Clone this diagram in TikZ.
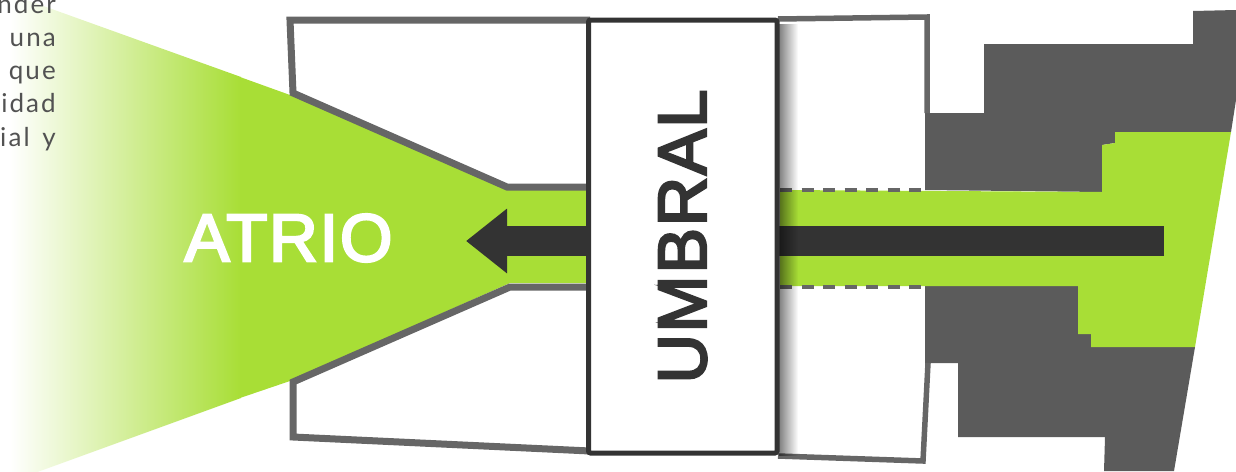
\documentclass[tikz,border=0pt]{standalone}
\usepackage{fontspec}
\setmainfont{Liberation Sans}
\newfontfamily\fuentetexto[LetterSpace=8]{Lato}
\newfontfamily\fuentetitulo[FakeBold=3.5,LetterSpace=2.5]{Liberation Sans}
\usetikzlibrary{arrows.meta,fadings}
\definecolor{verde}{HTML}{A8DE36}
\definecolor{gris}{HTML}{5B5B5B}
\definecolor{muro}{HTML}{666666}
\definecolor{oscuro}{HTML}{333333}
\begin{document}
\begin{tikzpicture}[x=1pt, y=-1pt,
  muro/.style={draw=muro, line width=7pt, line join=miter},
  murofino/.style={draw=muro, line width=5.5pt, line join=miter},
  punteado/.style={draw=muro, line width=3.5pt, dash pattern=on 12pt off 9.5pt},
  flecha/.style={draw=oscuro, line width=30pt, -{Triangle[length=41pt,width=62pt]}},
  caja/.style={draw=oscuro, line width=5pt, fill=white, rounded corners=2pt,
    minimum width=433pt, minimum height=188.5pt, inner sep=0pt}]
\useasboundingbox (0,0) rectangle (1236,471);
\begin{scope}
\clip (0,0) rectangle (1236,471);
% atrio, fading out to the left
\shade[left color=white, right color=verde] (10,-6) -- (241,77) -- (241,398) -- (10,482) -- cycle;
\fill[verde] (240,77) -- (290,95) -- (510,190) -- (590,190) -- (590,283) -- (510,283) -- (290,381) -- (240,398) -- cycle;
% dark blocks
\fill[gris] (925,190) -- (925,113) -- (984,113) -- (984,44) -- (1193,44) -- (1193,11) -- (1236,10)
  -- (1236,100) -- (1231,132) -- (1115,132) -- (1115,143) -- (1102,145) -- (1102,192) -- cycle;
\fill[gris] (925,285) -- (1078,286) -- (1078,334) -- (1091,334) -- (1091,347) -- (1195,347)
  -- (1174,471) -- (1104,471) -- (1105,437) -- (958,437) -- (958,363) -- (925,363) -- cycle;
% galeria
\fill[verde] (780,190) -- (1102,192) -- (1102,145) -- (1115,143) -- (1115,132) -- (1231,132)
  -- (1195,347) -- (1091,347) -- (1091,334) -- (1078,334) -- (1078,286) -- (780,286) -- cycle;
% outline of the building
\draw[muro] (590,187) -- (507,187) -- (293,93) -- (290,20) -- (590,20);
\draw[murofino] (778,19) -- (927,17) -- (927,113);
\draw[muro] (590,287) -- (510,287) -- (293,382) -- (293,437) -- (590,451);
\draw[murofino] (778,456) -- (923,461) -- (928,363);
\draw[punteado] (780,190) -- (925,190);
\draw[punteado] (780,287) -- (925,287);
\end{scope}
\coordinate (inicio) at (1164,241);
\coordinate (punta) at (466,241);
\draw[flecha] (inicio) -- (punta);
\fill[black, opacity=.5, path fading=east] (779,24) rectangle (798,456);
\node[caja, rotate=90, text=oscuro, font=\fuentetitulo\fontsize{68.5}{72}\selectfont] (umbral) at (682.75,236.5) {UMBRAL};
\node[text=white, font=\fuentetitulo\fontsize{67.5}{71}\selectfont, inner sep=0pt] (atrio) at (288.5,238) {ATRIO};
\node[anchor=north east, align=right, inner sep=0pt, text=oscuro!85, font=\fuentetexto\fontsize{26}{33.2}\selectfont]
  (texto) at (56,-6) {nder\\una\\que\\lidad\\ial\hspace{4pt} y};
\end{tikzpicture}
\end{document}
